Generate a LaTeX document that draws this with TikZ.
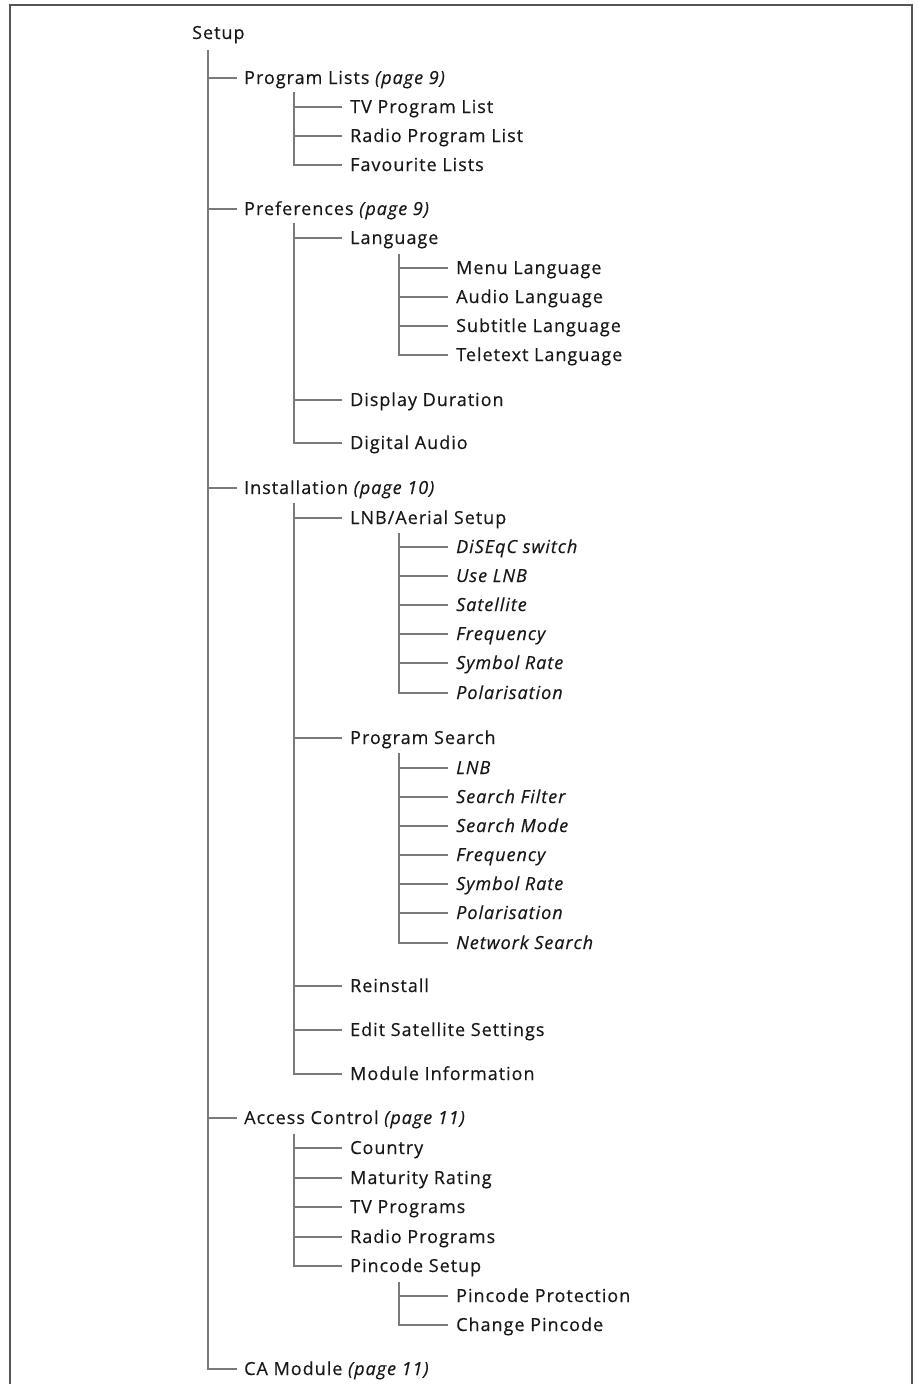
\documentclass[tikz,border=0pt]{standalone}
\usepackage{fontspec}
\setmainfont{Open Sans}[LetterSpace=5.5, FakeBold=0.4]
\definecolor{txt}{HTML}{1A1718}
\definecolor{ln}{HTML}{7A7A7A}
\definecolor{frm}{HTML}{555555}
\begin{document}
\begin{tikzpicture}[x=1pt,y=-1pt,
  item/.style={anchor=west, inner sep=0pt, text=txt,
    font=\fontsize{18}{20}\selectfont, text height=12pt, text depth=0pt},
  br/.style={draw=ln, line width=1.1pt, shorten >=8pt}]
\useasboundingbox (0,0) rectangle (920,1384);
\draw[frm, line width=1.4pt] (10,1390) -- (10,5) -- (912,5) -- (912,1390);

% root
\node[item] (setup) at (192,33) {Setup};
% level 1
\node[item] (pl) at (244,78) {Program Lists \textit{(page 9)}};
\node[item] (pref) at (244,209) {Preferences \textit{(page 9)}};
\node[item] (inst) at (244,488) {Installation \textit{(page 10)}};
\node[item] (acc) at (244,1118) {Access Control \textit{(page 11)}};
\node[item] (cam) at (244,1369) {CA Module \textit{(page 11)}};

% program lists children
\node[item] (tvpl) at (350,107) {TV Program List};
\node[item] (rpl) at (350,136) {Radio Program List};
\node[item] (fav) at (350,165) {Favourite Lists};

% preferences children
\node[item] (lang) at (350,238) {Language};
\node[item] (disp) at (350,400) {Display Duration};
\node[item] (daud) at (350,443) {Digital Audio};
\node[item] (mlang) at (456,268) {Menu Language};
\node[item] (alang) at (456,297) {Audio Language};
\node[item] (slang) at (456,326) {Subtitle Language};
\node[item] (tlang) at (456,355) {Teletext Language};

% installation children
\node[item] (lnb) at (350,518) {LNB/Aerial Setup};
\node[item] (ps) at (350,738) {Program Search};
\node[item] (rein) at (350,986) {Reinstall};
\node[item] (edit) at (350,1030) {Edit Satellite Settings};
\node[item] (mod) at (350,1074) {Module Information};

\node[item] (l1) at (456,547) {\textit{DiSEqC switch}};
\node[item] (l2) at (456,576) {\textit{Use LNB}};
\node[item] (l3) at (456,605) {\textit{Satellite}};
\node[item] (l4) at (456,634) {\textit{Frequency}};
\node[item] (l5) at (456,663) {\textit{Symbol Rate}};
\node[item] (l6) at (456,693) {\textit{Polarisation}};

\node[item] (p1) at (456,768) {\textit{LNB}};
\node[item] (p2) at (456,797) {\textit{Search Filter}};
\node[item] (p3) at (456,826) {\textit{Search Mode}};
\node[item] (p4) at (456,855) {\textit{Frequency}};
\node[item] (p5) at (456,884) {\textit{Symbol Rate}};
\node[item] (p6) at (456,913) {\textit{Polarisation}};
\node[item] (p7) at (456,943) {\textit{Network Search}};

% access control children
\node[item] (cty) at (350,1148) {Country};
\node[item] (mat) at (350,1178) {Maturity Rating};
\node[item] (tvp) at (350,1207) {TV Programs};
\node[item] (rp) at (350,1237) {Radio Programs};
\node[item] (pin) at (350,1266) {Pincode Setup};
\node[item] (pp) at (456,1296) {Pincode Protection};
\node[item] (cp) at (456,1325) {Change Pincode};

% trunk
\coordinate (trT) at (208,50);
\draw[br, shorten >=7pt] (trT) |- (cam);
\foreach \n in {pl,pref,inst,acc} \draw[br, shorten >=7pt] (trT |- \n) -- (\n);

% program lists
\coordinate (plT) at (294,92);
\draw[br] (plT) |- (fav);
\foreach \n in {tvpl,rpl} \draw[br] (plT |- \n) -- (\n);

% preferences
\coordinate (prT) at (294,223);
\draw[br] (prT) |- (daud);
\foreach \n in {lang,disp} \draw[br] (prT |- \n) -- (\n);

% language
\coordinate (laT) at (399,254);
\draw[br] (laT) |- (tlang);
\foreach \n in {mlang,alang,slang} \draw[br] (laT |- \n) -- (\n);

% installation
\coordinate (inT) at (294,503);
\draw[br] (inT) |- (mod);
\foreach \n in {lnb,ps,rein,edit} \draw[br] (inT |- \n) -- (\n);

% lnb
\coordinate (lnT) at (399,533);
\draw[br] (lnT) |- (l6);
\foreach \n in {l1,l2,l3,l4,l5} \draw[br] (lnT |- \n) -- (\n);

% program search
\coordinate (psT) at (399,753);
\draw[br] (psT) |- (p7);
\foreach \n in {p1,p2,p3,p4,p5,p6} \draw[br] (psT |- \n) -- (\n);

% access control
\coordinate (acT) at (294,1134);
\draw[br] (acT) |- (pin);
\foreach \n in {cty,mat,tvp,rp} \draw[br] (acT |- \n) -- (\n);

% pincode
\coordinate (piT) at (399,1282);
\draw[br] (piT) |- (cp);
\draw[br] (piT |- pp) -- (pp);
\end{tikzpicture}
\end{document}
